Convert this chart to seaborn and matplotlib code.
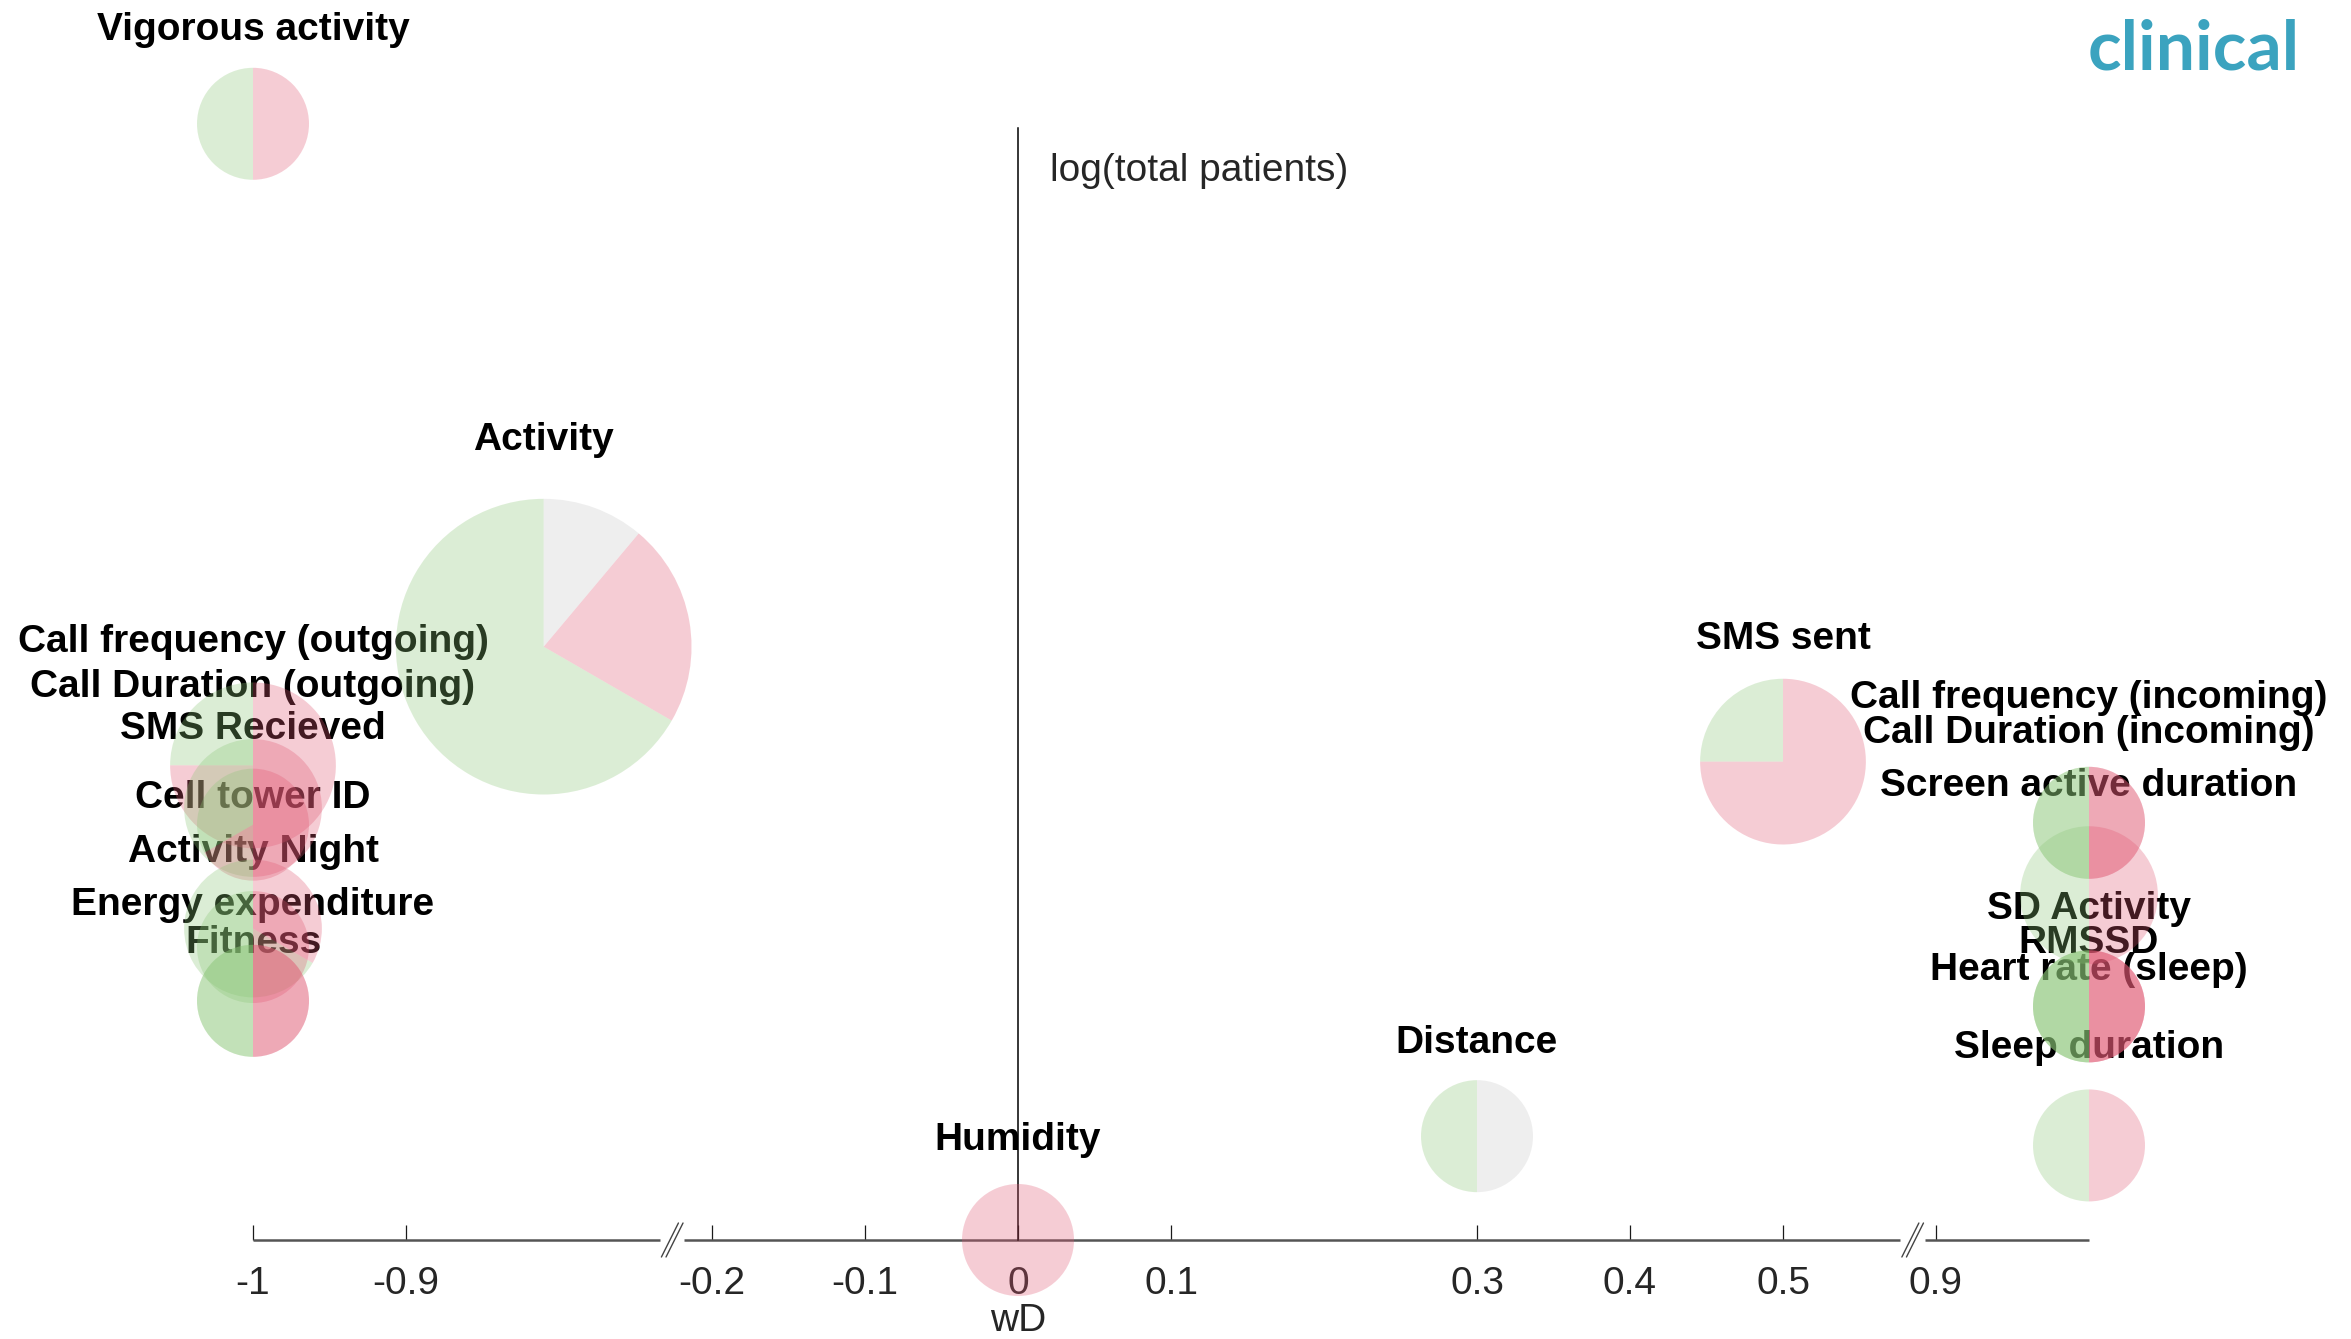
import numpy as np
import matplotlib
matplotlib.use("Agg")
import matplotlib.pyplot as plt
import matplotlib.transforms as mtransforms
from matplotlib.patches import Wedge
import seaborn as sns

# ---------------------------------------------------------------- data
features = [
    "Vigorous activity", "Activity", "SMS sent", "Distance", "Humidity",
    "Call frequency (outgoing)", "Call Duration (outgoing)", "SMS Recieved",
    "Cell tower ID", "Activity Night", "Energy expenditure", "Fitness",
    "Call frequency (incoming)", "Call Duration (incoming)",
    "Screen active duration", "SD Activity", "RMSSD", "Heart rate (sleep)",
    "Sleep duration",
]
wd = [-1.0, -0.81, 0.5, 0.3, 0.0,
      -1.0, -1.0, -1.0, -1.0, -1.0, -1.0, -1.0,
      1.0, 1.0, 1.0, 1.0, 1.0, 1.0, 1.0]
log_patients = [3.01, 1.60, 1.29, 0.28, 0.0,
                1.28, 1.165, 1.12, 0.84, 0.79, 0.645, 0.645,
                1.125, 1.125, 0.93, 0.63, 0.63, 0.63, 0.255]
# studies per direction of effect: positive / negative / none
n_positive = [1, 6, 1, 1, 0, 1, 1, 1, 2, 1, 1, 1, 1, 1, 1, 1, 1, 1, 1]
n_negative = [1, 2, 3, 0, 1, 3, 1, 2, 1, 1, 1, 1, 1, 1, 1, 1, 1, 1, 1]
n_null = [0, 1, 0, 1, 0, 0, 0, 0, 0, 0, 0, 0, 0, 0, 0, 0, 0, 0, 0]
# relative bubble radius
bubble_scale = [1.0, 2.64, 1.48, 1.0, 1.0,
                1.48, 1.23, 1.0, 1.23, 1.0, 1.0, 1.0,
                1.0, 1.0, 1.23, 1.0, 1.0, 1.0, 1.0]

tick_values = [-1, -0.9, -0.2, -0.1, 0, 0.1, 0.3, 0.4, 0.5, 0.9]
tick_labels = ["-1", "-0.9", "-0.2", "-0.1", "0", "0.1", "0.3", "0.4", "0.5", "0.9"]

# ---------------------------------------------------------------- layout
DPI = 100
base_radius_px = 56
# label baseline height above the bubble centre (pixels)
label_lift_px = [84, 197, 113, 83, 90,
                 113, 111, 86, 121, 85, 86, 48,
                 115, 80, 99, 87, 53, 26, 87]
# broken x axis: hidden wD ranges
break_spans = [(-0.734, -0.218), (0.5765, 0.893)]

# piecewise-linear axis: each hidden range is squeezed into a small gap
_wd_knots = [-2.0, break_spans[0][0], break_spans[0][1],
             break_spans[1][0], break_spans[1][1], 2.0]
_pos_knots = [-1.5, -0.234, -0.218, 0.5765, 0.593, 1.7]


def forward(x):
    return np.interp(np.asarray(x, dtype=float), _wd_knots, _pos_knots)


def inverse(p):
    return np.interp(np.asarray(p, dtype=float), _pos_knots, _wd_knots)


sns.set_theme(style="white")
plt.rcParams["font.family"] = ["Liberation Sans", "DejaVu Sans"]
plt.rcParams["axes.unicode_minus"] = False

slice_colors = sns.color_palette(["#8AC676", "#E15873", "#C8C8C8"])
text_color = "#262626"

fig = plt.figure(figsize=(23.51, 13.39), dpi=DPI)
fig.patch.set_facecolor("white")
ax = fig.add_axes([253 / 2351, 99 / 1339, 1836 / 2351, 1112.5 / 1339])
ax.set_facecolor("none")
ax.set_xscale("function", functions=(forward, inverse))

# spines: only the vertical one, sitting at wD = 0
for side in ("top", "right", "bottom"):
    ax.spines[side].set_visible(False)
ax.spines["left"].set_position(("data", 0))
ax.spines["left"].set_color("black")
ax.spines["left"].set_linewidth(1.1)

# x axis drawn in pieces with break marks
segments = [(-1.0, break_spans[0][0]), (break_spans[0][1], break_spans[1][0]),
            (break_spans[1][1], 1.0)]
for a, b in segments:
    ax.plot([a, b], [0, 0], color="#555555", lw=1.8, solid_capstyle="butt",
            clip_on=False, zorder=2)
for a, b in break_spans:
    xm = 0.5 * (a + b)
    tr = fig.dpi_scale_trans + mtransforms.ScaledTranslation(xm, 0, ax.transData)
    for dx in (-2.3, 2.3):
        ax.plot([(dx - 8.5) / DPI, (dx + 8.5) / DPI], [-17 / DPI, 17 / DPI],
                color="#444444", lw=1.0, transform=tr, clip_on=False, zorder=2)

ax.set_xticks(tick_values, tick_labels)
ax.tick_params(axis="x", direction="in", length=10.8, width=0.9, color="#1a1a1a",
               labelsize=28, labelcolor=text_color, pad=18.5, bottom=True, top=False)
ax.tick_params(axis="y", left=False, labelleft=False)

# pies
for i in range(len(features)):
    counts = [n_positive[i], n_negative[i], n_null[i]]
    total = sum(counts)
    r_in = base_radius_px * bubble_scale[i] / DPI
    tr = fig.dpi_scale_trans + mtransforms.ScaledTranslation(
        wd[i], log_patients[i], ax.transData)
    theta = 90.0
    for c, col in zip(counts, slice_colors):
        if c == 0:
            continue
        span = 360.0 * c / total
        ax.add_patch(Wedge((0, 0), r_in, theta, theta + span, transform=tr,
                           facecolor=col, alpha=0.3, edgecolor="none", lw=0,
                           zorder=5, clip_on=False))
        theta += span

# feature labels (drawn under the translucent pies)
for i, name in enumerate(features):
    ax.annotate(name, xy=(wd[i], log_patients[i]),
                xytext=(0, label_lift_px[i] * 72 / DPI), textcoords="offset points",
                ha="center", va="baseline", fontsize=28, fontweight="bold",
                color="black", zorder=3, annotation_clip=False)

# axis titles
ax.set_ylabel("log(total patients)", rotation=0, fontsize=28, color=text_color,
              ha="left", va="center")
ax.yaxis.set_label_coords(0, 2.884, transform=mtransforms.offset_copy(
    ax.transData, fig, x=32, y=0, units="dots"))
ax.set_xlabel("wD", fontsize=28, color=text_color)
ax.xaxis.label.set_va("baseline")
ax.xaxis.set_label_coords(0, 0, transform=mtransforms.offset_copy(
    ax.transData, fig, x=0, y=-91, units="dots"))

fig.text(2300 / 2351, 1 - 69 / 1339, "clinical", ha="right", va="baseline",
         fontsize=50, fontweight="bold", color="#3BA3BF",
         family=["Lato", "DejaVu Sans"])

ax.set_xlim(-1.0, 1.0)
ax.set_ylim(0, 3.0)

fig.savefig("out.png", dpi=DPI, facecolor="white")
